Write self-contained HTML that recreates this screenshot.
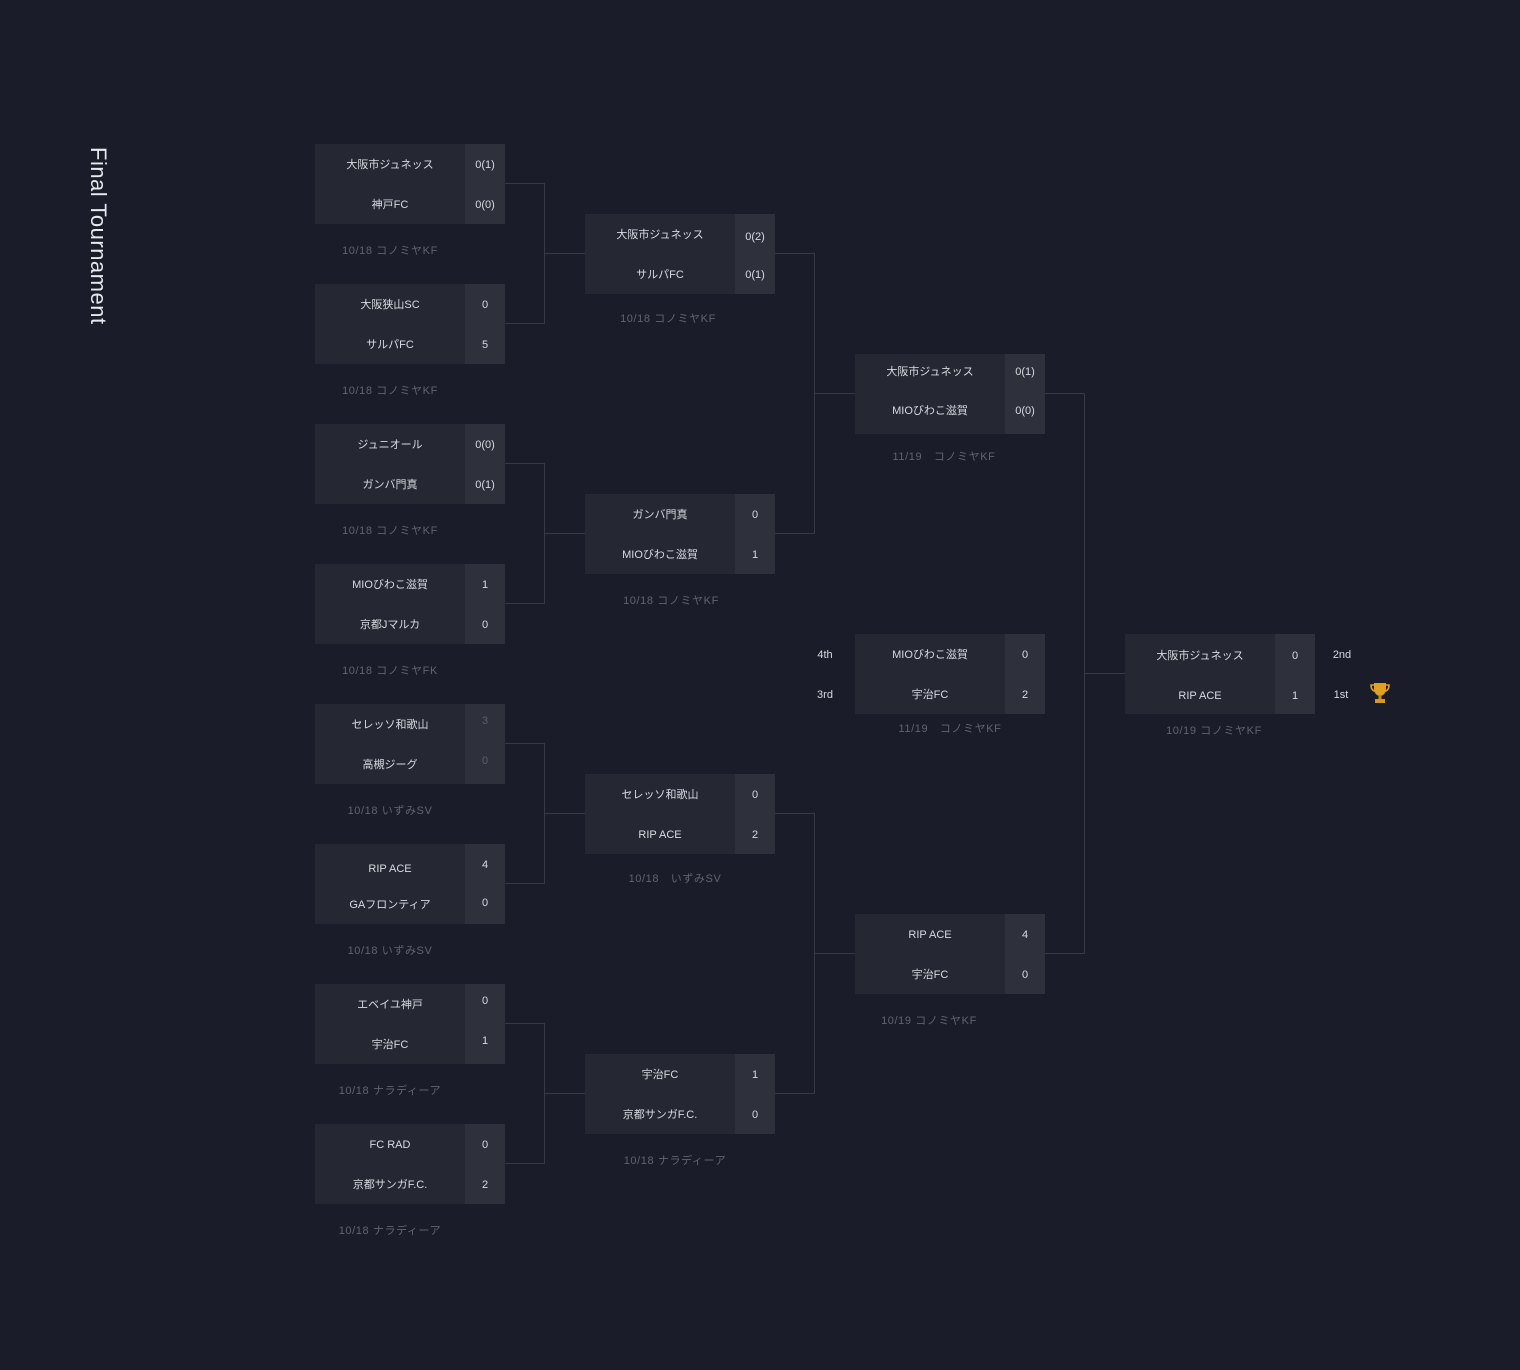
<!DOCTYPE html>
<html><head><meta charset="utf-8"><style>
html,body{margin:0;padding:0}
body{width:1520px;height:1370px;background:#1a1d29;position:relative;overflow:hidden;font-family:"Liberation Sans","Noto Sans CJK JP",sans-serif;color:#d8dae0}
.m{position:absolute;width:190px;height:80px;background:#252833}
.m .s{position:absolute;left:150px;top:0;width:40px;height:80px;background:#2e313c}
.m div.r{position:absolute;left:0;width:150px;height:40px;line-height:42px;text-align:center;font-size:11px}
.m div.sc{position:absolute;left:150px;width:40px;height:40px;line-height:42px;text-align:center;font-size:11px}
.d{position:absolute;width:150px;text-align:center;font-size:11px;color:#5f6472;letter-spacing:0.6px;height:16px;line-height:18px}
.l{position:absolute;background:#363a46}
.t{position:absolute;left:87px;top:147px;font-size:22px;color:#e6e8ee;transform-origin:0 0;transform:translate(24px,0) rotate(90deg);white-space:nowrap;letter-spacing:0.5px}
.lab{position:absolute;font-size:11px;width:30px;text-align:center;line-height:16px}
.g{color:#5b5f6b}
</style></head><body>
<div class="t">Final Tournament</div>

<div class="m" style="left:315px;top:144px"><div class="s"></div><div class="r" style="top:0">大阪市ジュネッス</div><div class="r" style="top:40px">神戸FC</div><div class="sc" style="top:0">0(1)</div><div class="sc" style="top:40px">0(0)</div></div>
<div class="d" style="left:315px;top:242px">10/18 コノミヤKF</div>
<div class="m" style="left:315px;top:284px"><div class="s"></div><div class="r" style="top:0">大阪狭山SC</div><div class="r" style="top:40px">サルパFC</div><div class="sc" style="top:0">0</div><div class="sc" style="top:40px">5</div></div>
<div class="d" style="left:315px;top:382px">10/18 コノミヤKF</div>
<div class="m" style="left:315px;top:424px"><div class="s"></div><div class="r" style="top:0">ジュニオール</div><div class="r" style="top:40px">ガンバ門真</div><div class="sc" style="top:0">0(0)</div><div class="sc" style="top:40px">0(1)</div></div>
<div class="d" style="left:315px;top:522px">10/18 コノミヤKF</div>
<div class="m" style="left:315px;top:564px"><div class="s"></div><div class="r" style="top:0">MIOびわこ滋賀</div><div class="r" style="top:40px">京都Jマルカ</div><div class="sc" style="top:0">1</div><div class="sc" style="top:40px">0</div></div>
<div class="d" style="left:315px;top:662px">10/18 コノミヤFK</div>
<div class="m" style="left:315px;top:704px"><div class="s"></div><div class="r" style="top:0">セレッソ和歌山</div><div class="r" style="top:40px">高槻ジーグ</div><div class="sc g" style="top:-4px">3</div><div class="sc g" style="top:36px">0</div></div>
<div class="d" style="left:315px;top:802px">10/18 いずみSV</div>
<div class="m" style="left:315px;top:844px"><div class="s"></div><div class="r" style="top:4px">RIP ACE</div><div class="r" style="top:40px">GAフロンティア</div><div class="sc" style="top:0">4</div><div class="sc" style="top:38px">0</div></div>
<div class="d" style="left:315px;top:942px">10/18 いずみSV</div>
<div class="m" style="left:315px;top:984px"><div class="s"></div><div class="r" style="top:0">エベイユ神戸</div><div class="r" style="top:40px">宇治FC</div><div class="sc" style="top:-4px">0</div><div class="sc" style="top:36px">1</div></div>
<div class="d" style="left:315px;top:1082px">10/18 ナラディーア</div>
<div class="m" style="left:315px;top:1124px"><div class="s"></div><div class="r" style="top:0">FC RAD</div><div class="r" style="top:40px">京都サンガF.C.</div><div class="sc" style="top:0">0</div><div class="sc" style="top:40px">2</div></div>
<div class="d" style="left:315px;top:1222px">10/18 ナラディーア</div>

<div class="m" style="left:585px;top:214px"><div class="s"></div><div class="r" style="top:0">大阪市ジュネッス</div><div class="r" style="top:40px">サルパFC</div><div class="sc" style="top:2px">0(2)</div><div class="sc" style="top:40px">0(1)</div></div>
<div class="d" style="left:593px;top:310px">10/18 コノミヤKF</div>
<div class="m" style="left:585px;top:494px"><div class="s"></div><div class="r" style="top:0">ガンバ門真</div><div class="r" style="top:40px">MIOびわこ滋賀</div><div class="sc" style="top:0">0</div><div class="sc" style="top:40px">1</div></div>
<div class="d" style="left:596px;top:592px">10/18 コノミヤKF</div>
<div class="m" style="left:585px;top:774px"><div class="s"></div><div class="r" style="top:0">セレッソ和歌山</div><div class="r" style="top:40px">RIP ACE</div><div class="sc" style="top:0">0</div><div class="sc" style="top:40px">2</div></div>
<div class="d" style="left:600px;top:870px">10/18　いずみSV</div>
<div class="m" style="left:585px;top:1054px"><div class="s"></div><div class="r" style="top:0">宇治FC</div><div class="r" style="top:40px">京都サンガF.C.</div><div class="sc" style="top:0">1</div><div class="sc" style="top:40px">0</div></div>
<div class="d" style="left:600px;top:1152px">10/18 ナラディーア</div>

<div class="m" style="left:855px;top:354px"><div class="s"></div><div class="r" style="top:-3px">大阪市ジュネッス</div><div class="r" style="top:36px">MIOびわこ滋賀</div><div class="sc" style="top:-3px">0(1)</div><div class="sc" style="top:36px">0(0)</div></div>
<div class="d" style="left:869px;top:448px">11/19　コノミヤKF</div>
<div class="m" style="left:855px;top:634px"><div class="s"></div><div class="r" style="top:0">MIOびわこ滋賀</div><div class="r" style="top:40px">宇治FC</div><div class="sc" style="top:0">0</div><div class="sc" style="top:40px">2</div></div>
<div class="d" style="left:875px;top:720px">11/19　コノミヤKF</div>
<div class="lab" style="left:810px;top:647px">4th</div>
<div class="lab" style="left:810px;top:687px">3rd</div>
<div class="m" style="left:855px;top:914px"><div class="s"></div><div class="r" style="top:0">RIP ACE</div><div class="r" style="top:40px">宇治FC</div><div class="sc" style="top:0">4</div><div class="sc" style="top:40px">0</div></div>
<div class="d" style="left:854px;top:1012px">10/19 コノミヤKF</div>

<div class="m" style="left:1125px;top:634px"><div class="s"></div><div class="r" style="top:1px">大阪市ジュネッス</div><div class="r" style="top:41px">RIP ACE</div><div class="sc" style="top:1px">0</div><div class="sc" style="top:41px">1</div></div>
<div class="d" style="left:1139px;top:722px">10/19 コノミヤKF</div>
<div class="lab" style="left:1327px;top:647px">2nd</div>
<div class="lab" style="left:1326px;top:687px">1st</div>
<svg style="position:absolute;left:1370px;top:682px" width="20" height="22" viewBox="0 0 20 22">
<path d="M4 1h12v6c0 4-3 7-6 7s-6-3-6-7z" fill="#e0a020"/>
<path d="M4 3H1c0 4 2 6 4 6M16 3h3c0 4-2 6-4 6" stroke="#e0a020" stroke-width="1.6" fill="none"/>
<rect x="8.5" y="13" width="3" height="4" fill="#c88a18"/>
<rect x="5" y="17" width="10" height="4" fill="#d8981c"/>
</svg>

<div class="l" style="left:505px;top:183px;width:40px;height:1px"></div>
<div class="l" style="left:505px;top:323px;width:40px;height:1px"></div>
<div class="l" style="left:544px;top:183px;width:1px;height:141px"></div>
<div class="l" style="left:545px;top:253px;width:40px;height:1px"></div>

<div class="l" style="left:505px;top:463px;width:40px;height:1px"></div>
<div class="l" style="left:505px;top:603px;width:40px;height:1px"></div>
<div class="l" style="left:544px;top:463px;width:1px;height:141px"></div>
<div class="l" style="left:545px;top:533px;width:40px;height:1px"></div>

<div class="l" style="left:505px;top:743px;width:40px;height:1px"></div>
<div class="l" style="left:505px;top:883px;width:40px;height:1px"></div>
<div class="l" style="left:544px;top:743px;width:1px;height:141px"></div>
<div class="l" style="left:545px;top:813px;width:40px;height:1px"></div>

<div class="l" style="left:505px;top:1023px;width:40px;height:1px"></div>
<div class="l" style="left:505px;top:1163px;width:40px;height:1px"></div>
<div class="l" style="left:544px;top:1023px;width:1px;height:141px"></div>
<div class="l" style="left:545px;top:1093px;width:40px;height:1px"></div>

<div class="l" style="left:775px;top:253px;width:40px;height:1px"></div>
<div class="l" style="left:775px;top:533px;width:40px;height:1px"></div>
<div class="l" style="left:814px;top:253px;width:1px;height:281px"></div>
<div class="l" style="left:815px;top:393px;width:40px;height:1px"></div>

<div class="l" style="left:775px;top:813px;width:40px;height:1px"></div>
<div class="l" style="left:775px;top:1093px;width:40px;height:1px"></div>
<div class="l" style="left:814px;top:813px;width:1px;height:281px"></div>
<div class="l" style="left:815px;top:953px;width:40px;height:1px"></div>

<div class="l" style="left:1045px;top:393px;width:40px;height:1px"></div>
<div class="l" style="left:1045px;top:953px;width:40px;height:1px"></div>
<div class="l" style="left:1084px;top:393px;width:1px;height:561px"></div>
<div class="l" style="left:1085px;top:673px;width:40px;height:1px"></div>
</body></html>
